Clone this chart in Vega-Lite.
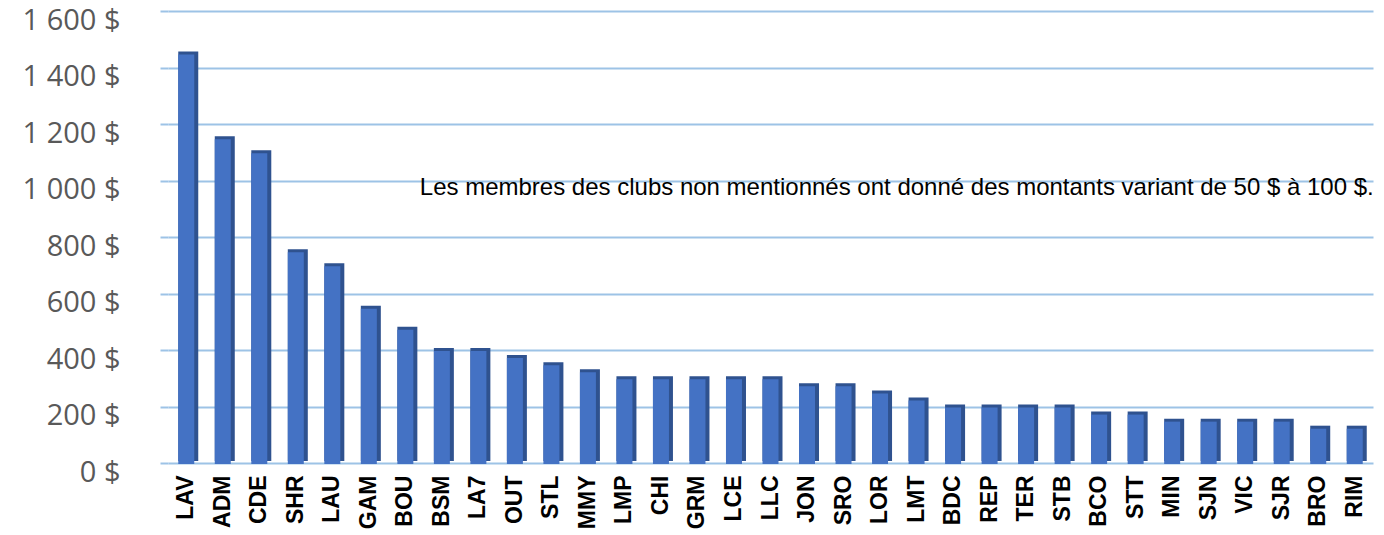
{
  "$schema": "https://vega.github.io/schema/vega-lite/v6.json",
  "autosize": "none",
  "width": 1216,
  "height": 452,
  "padding": {"left": 168, "top": 11, "right": 0, "bottom": 72},
  "background": "white",
  "config": {"view": {"stroke": null}, "font": "Liberation Sans"},
  "data": {"values": [
    {"club": "LAV", "montant": 1450},
    {"club": "ADM", "montant": 1150},
    {"club": "CDE", "montant": 1100},
    {"club": "SHR", "montant": 750},
    {"club": "LAU", "montant": 700},
    {"club": "GAM", "montant": 550},
    {"club": "BOU", "montant": 475},
    {"club": "BSM", "montant": 400},
    {"club": "LA7", "montant": 400},
    {"club": "OUT", "montant": 375},
    {"club": "STL", "montant": 350},
    {"club": "MMY", "montant": 325},
    {"club": "LMP", "montant": 300},
    {"club": "CHI", "montant": 300},
    {"club": "GRM", "montant": 300},
    {"club": "LCE", "montant": 300},
    {"club": "LLC", "montant": 300},
    {"club": "JON", "montant": 275},
    {"club": "SRO", "montant": 275},
    {"club": "LOR", "montant": 250},
    {"club": "LMT", "montant": 225},
    {"club": "BDC", "montant": 200},
    {"club": "REP", "montant": 200},
    {"club": "TER", "montant": 200},
    {"club": "STB", "montant": 200},
    {"club": "BCO", "montant": 175},
    {"club": "STT", "montant": 175},
    {"club": "MIN", "montant": 150},
    {"club": "SJN", "montant": 150},
    {"club": "VIC", "montant": 150},
    {"club": "SJR", "montant": 150},
    {"club": "BRO", "montant": 125},
    {"club": "RIM", "montant": 125}
  ]},
  "encoding": {
    "x": {
      "field": "club", "type": "nominal", "sort": null,
      "scale": {"range": [0, 1205], "paddingInner": 0, "paddingOuter": 0},
      "axis": {
        "title": null, "labelAngle": -90, "labelAlign": "right", "labelBaseline": "middle",
        "labelFont": "Liberation Sans", "labelFontSize": 23, "labelFontWeight": "bold",
        "labelColor": "#000000", "labelPadding": 12, "ticks": false, "domain": false
      }
    },
    "y": {
      "field": "montant", "type": "quantitative",
      "scale": {"domain": [0, 1600], "nice": false},
      "axis": {
        "title": null, "values": [0, 200, 400, 600, 800, 1000, 1200, 1400, 1600],
        "labelExpr": "replace(format(datum.value, ',.0f'), ',', ' ') + ' $'",
        "labelFont": "Open Sans", "labelFontSize": 29, "labelColor": "#595959",
        "labelPadding": 40, "labelOffset": 9, "tickSize": 8, "tickColor": "#9DC3E6", "tickWidth": 2,
        "domain": false, "grid": true, "gridColor": "#9DC3E6", "gridWidth": 2
      }
    }
  },
  "layer": [
    {"mark": {"type": "bar", "color": "#2F528F", "width": 20, "xOffset": 2, "yOffset": -2}},
    {"mark": {"type": "bar", "color": "#4472C4", "width": 16, "yOffset": 1}},
    {
      "data": {"values": [{"club": "RIM", "montant": 975, "texte": "Les membres des clubs non mentionnés ont donné des montants variant de 50 $ à 100 $."}]},
      "mark": {"type": "text", "align": "right", "baseline": "middle", "fontSize": 24, "font": "Liberation Sans", "color": "#000000", "dx": 19},
      "encoding": {
        "text": {"field": "texte", "type": "nominal"}
      }
    }
  ]
}
